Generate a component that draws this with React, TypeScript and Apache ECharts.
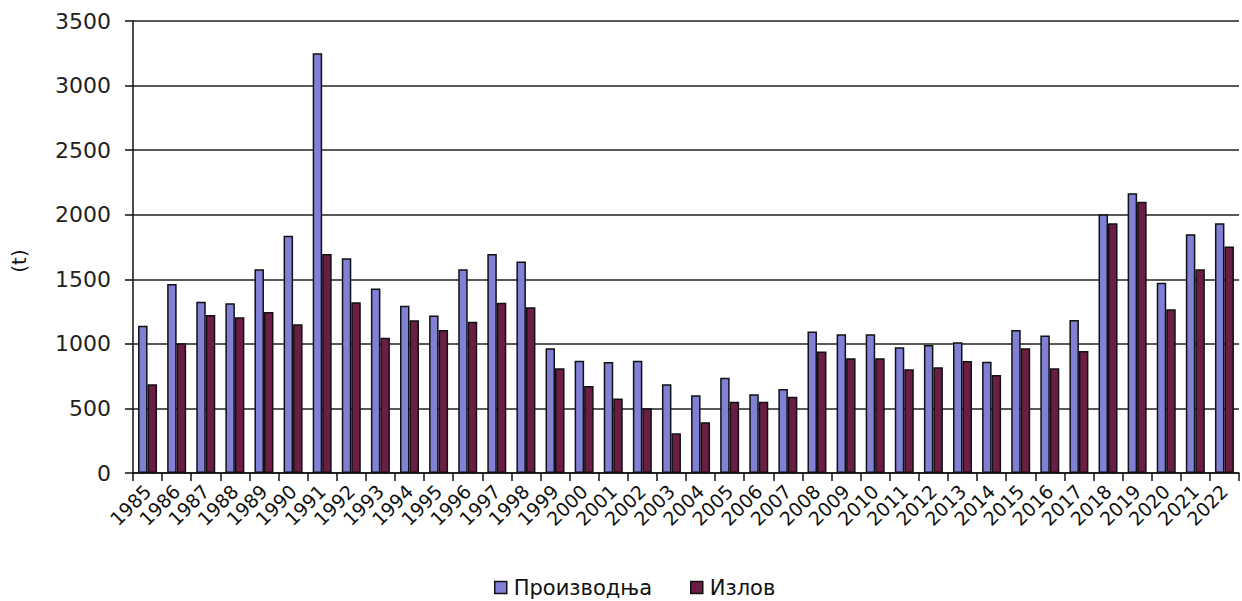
import React, { useEffect, useRef } from "react";
import * as echarts from "echarts";

const years = [
  "1985","1986","1987","1988","1989","1990","1991","1992","1993","1994",
  "1995","1996","1997","1998","1999","2000","2001","2002","2003","2004",
  "2005","2006","2007","2008","2009","2010","2011","2012","2013","2014",
  "2015","2016","2017","2018","2019","2020","2021","2022",
];

const production = [
  1141, 1464, 1327, 1314, 1578, 1838, 3251, 1663, 1428, 1296,
  1219, 1578, 1696, 1637, 966, 870, 860, 870, 687, 602,
  738, 609, 651, 1095, 1074, 1074, 973, 991, 1012, 862,
  1108, 1064, 1185, 2004, 2166, 1474, 1849, 1934,
];

const catch_ = [
  687, 1005, 1224, 1206, 1247, 1152, 1696, 1322, 1048, 1183,
  1108, 1172, 1319, 1283, 811, 674, 576, 501, 307, 393,
  552, 552, 591, 940, 888, 888, 803, 819, 867, 759,
  966, 811, 945, 1934, 2101, 1268, 1578, 1753,
];

const seriesNames = ["Производња", "Излов"];
const yTicks = { min: 0, max: 3500, interval: 500 };
const yAxisTitle = "(t)";

export default function App() {
  const ref = useRef<HTMLDivElement>(null);
  useEffect(() => {
    document.body.style.margin = "0";
    const chart = echarts.init(ref.current!, null, { renderer: "svg" });
    const font = "DejaVu Sans";
    chart.setOption({
      animation: false,
      backgroundColor: "#ffffff",
      textStyle: { fontFamily: font },
      grid: { left: 133, right: 3, top: 21, bottom: 128 },
      legend: {
        data: seriesNames,
        top: 572,
        left: 489,
        itemWidth: 12,
        itemHeight: 12,
        itemGap: 38,
        icon: "rect",
        itemStyle: { borderColor: "#111", borderWidth: 1.5 },
        textStyle: { fontFamily: font, fontSize: 21, color: "#111", padding: [0, 0, 0, 2] },
      },
      xAxis: {
        type: "category",
        data: years,
        axisLine: { lineStyle: { color: "#111", width: 1.5 } },
        axisTick: { show: true, length: 8, lineStyle: { color: "#111", width: 1.5 } },
        axisLabel: {
          rotate: 45,
          interval: 0,
          fontFamily: font,
          fontSize: 19,
          color: "#111",
          margin: 15,
        },
      },
      yAxis: {
        type: "value",
        min: yTicks.min,
        max: yTicks.max,
        interval: yTicks.interval,
        name: yAxisTitle,
        nameLocation: "middle",
        nameRotate: 90,
        nameGap: 104,
        nameTextStyle: { fontFamily: font, fontSize: 20, color: "#111", padding: [0, 0, 0, -28] },
        axisLine: { show: true, lineStyle: { color: "#111", width: 1.5 } },
        axisTick: { show: true, length: 8, lineStyle: { color: "#111", width: 1.5 } },
        axisLabel: {
          fontFamily: font,
          fontSize: 22,
          color: "#222",
          margin: 22,
          formatter: (v: number) => String(v),
        },
        splitLine: { lineStyle: { color: "#222", width: 1.5 } },
      },
      series: [
        {
          name: seriesNames[0],
          type: "bar",
          data: production,
          barWidth: 9.5,
          barGap: "0%",
          itemStyle: { color: "#8080d6", borderColor: "#111", borderWidth: 1.5 },
        },
        {
          name: seriesNames[1],
          type: "bar",
          data: catch_,
          barWidth: 9.5,
          itemStyle: { color: "#6b1d45", borderColor: "#111", borderWidth: 1.5 },
        },
      ],
    });
    return () => chart.dispose();
  }, []);
  return <div ref={ref} style={{ width: 1242, height: 601 }} />;
}
